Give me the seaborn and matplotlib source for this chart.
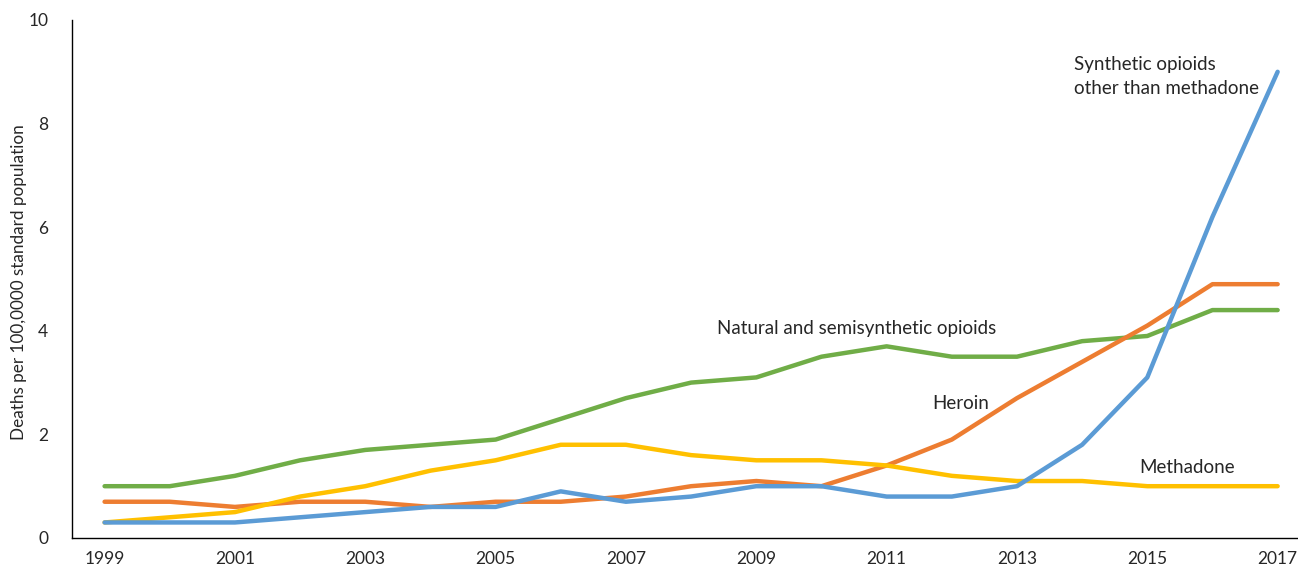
import pandas as pd
import seaborn as sns
import matplotlib.pyplot as plt

years = list(range(1999, 2018))
synthetic = [0.3, 0.3, 0.3, 0.4, 0.5, 0.6, 0.6, 0.9, 0.7, 0.8, 1.0, 1.0, 0.8, 0.8, 1.0, 1.8, 3.1, 6.2, 9.0]
heroin = [0.7, 0.7, 0.6, 0.7, 0.7, 0.6, 0.7, 0.7, 0.8, 1.0, 1.1, 1.0, 1.4, 1.9, 2.7, 3.4, 4.1, 4.9, 4.9]
natural = [1.0, 1.0, 1.2, 1.5, 1.7, 1.8, 1.9, 2.3, 2.7, 3.0, 3.1, 3.5, 3.7, 3.5, 3.5, 3.8, 3.9, 4.4, 4.4]
methadone = [0.3, 0.4, 0.5, 0.8, 1.0, 1.3, 1.5, 1.8, 1.8, 1.6, 1.5, 1.5, 1.4, 1.2, 1.1, 1.1, 1.0, 1.0, 1.0]

series_names = ['Synthetic opioids\nother than methadone', 'Heroin',
                'Natural and semisynthetic opioids', 'Methadone']
colors = ['#5B9BD5', '#ED7D31', '#70AD47', '#FFC000']

sns.set_style('white')
plt.rcParams['font.family'] = ['Lato', 'DejaVu Sans']

# long format for seaborn
rows = []
for name, vals in zip(series_names, [synthetic, heroin, natural, methadone]):
    for y, v in zip(years, vals):
        rows.append({'year': y, 'value': v, 'series': name})
df = pd.DataFrame(rows)

fig = plt.figure(figsize=(12.98, 5.69), dpi=100)
ax = fig.add_axes([72 / 1298, 31 / 569, 1226 / 1298, 518 / 569])

# draw order: green, orange, yellow, blue on top
order = [2, 1, 3, 0]
for i in order:
    sns.lineplot(data=df[df['series'] == series_names[i]], x='year', y='value',
                 color=colors[i], linewidth=3.2, ax=ax, legend=False,
                 solid_capstyle='round')

ax.set_xlim(1998.5, 1998.5 + 1226 / 65.17)
ax.set_ylim(0, 10)
ax.set_xticks(years[::2])
ax.set_xticklabels([str(y) for y in years[::2]], fontsize=12.5)
ax.set_yticks([0, 2, 4, 6, 8, 10])
ax.set_yticklabels(['0', '2', '4', '6', '8', '10'], fontsize=12.5)
ax.tick_params(axis='y', direction='in', length=6, width=1, pad=17, color='black')
ax.tick_params(axis='x', length=0, pad=9)
ax.set_xlabel('')
ax.set_ylabel('Deaths per 100,0000 standard population', fontsize=12.3)
ax.yaxis.set_label_coords(-0.037, 0.494)

for side in ['top', 'right']:
    ax.spines[side].set_visible(False)
for side in ['left', 'bottom']:
    ax.spines[side].set_color('black')
    ax.spines[side].set_linewidth(1)

# inline labels
ax.text(2013.87, 9.3, series_names[0], fontsize=13.5, va='top', linespacing=1.45)
ax.text(2008.39, 4.05, series_names[2], fontsize=13.5, va='center')
ax.text(2011.7, 2.6, series_names[1], fontsize=13.5, va='center')
ax.text(2014.87, 1.37, series_names[3], fontsize=13.5, va='center')

fig.savefig('out.png', dpi=100)
